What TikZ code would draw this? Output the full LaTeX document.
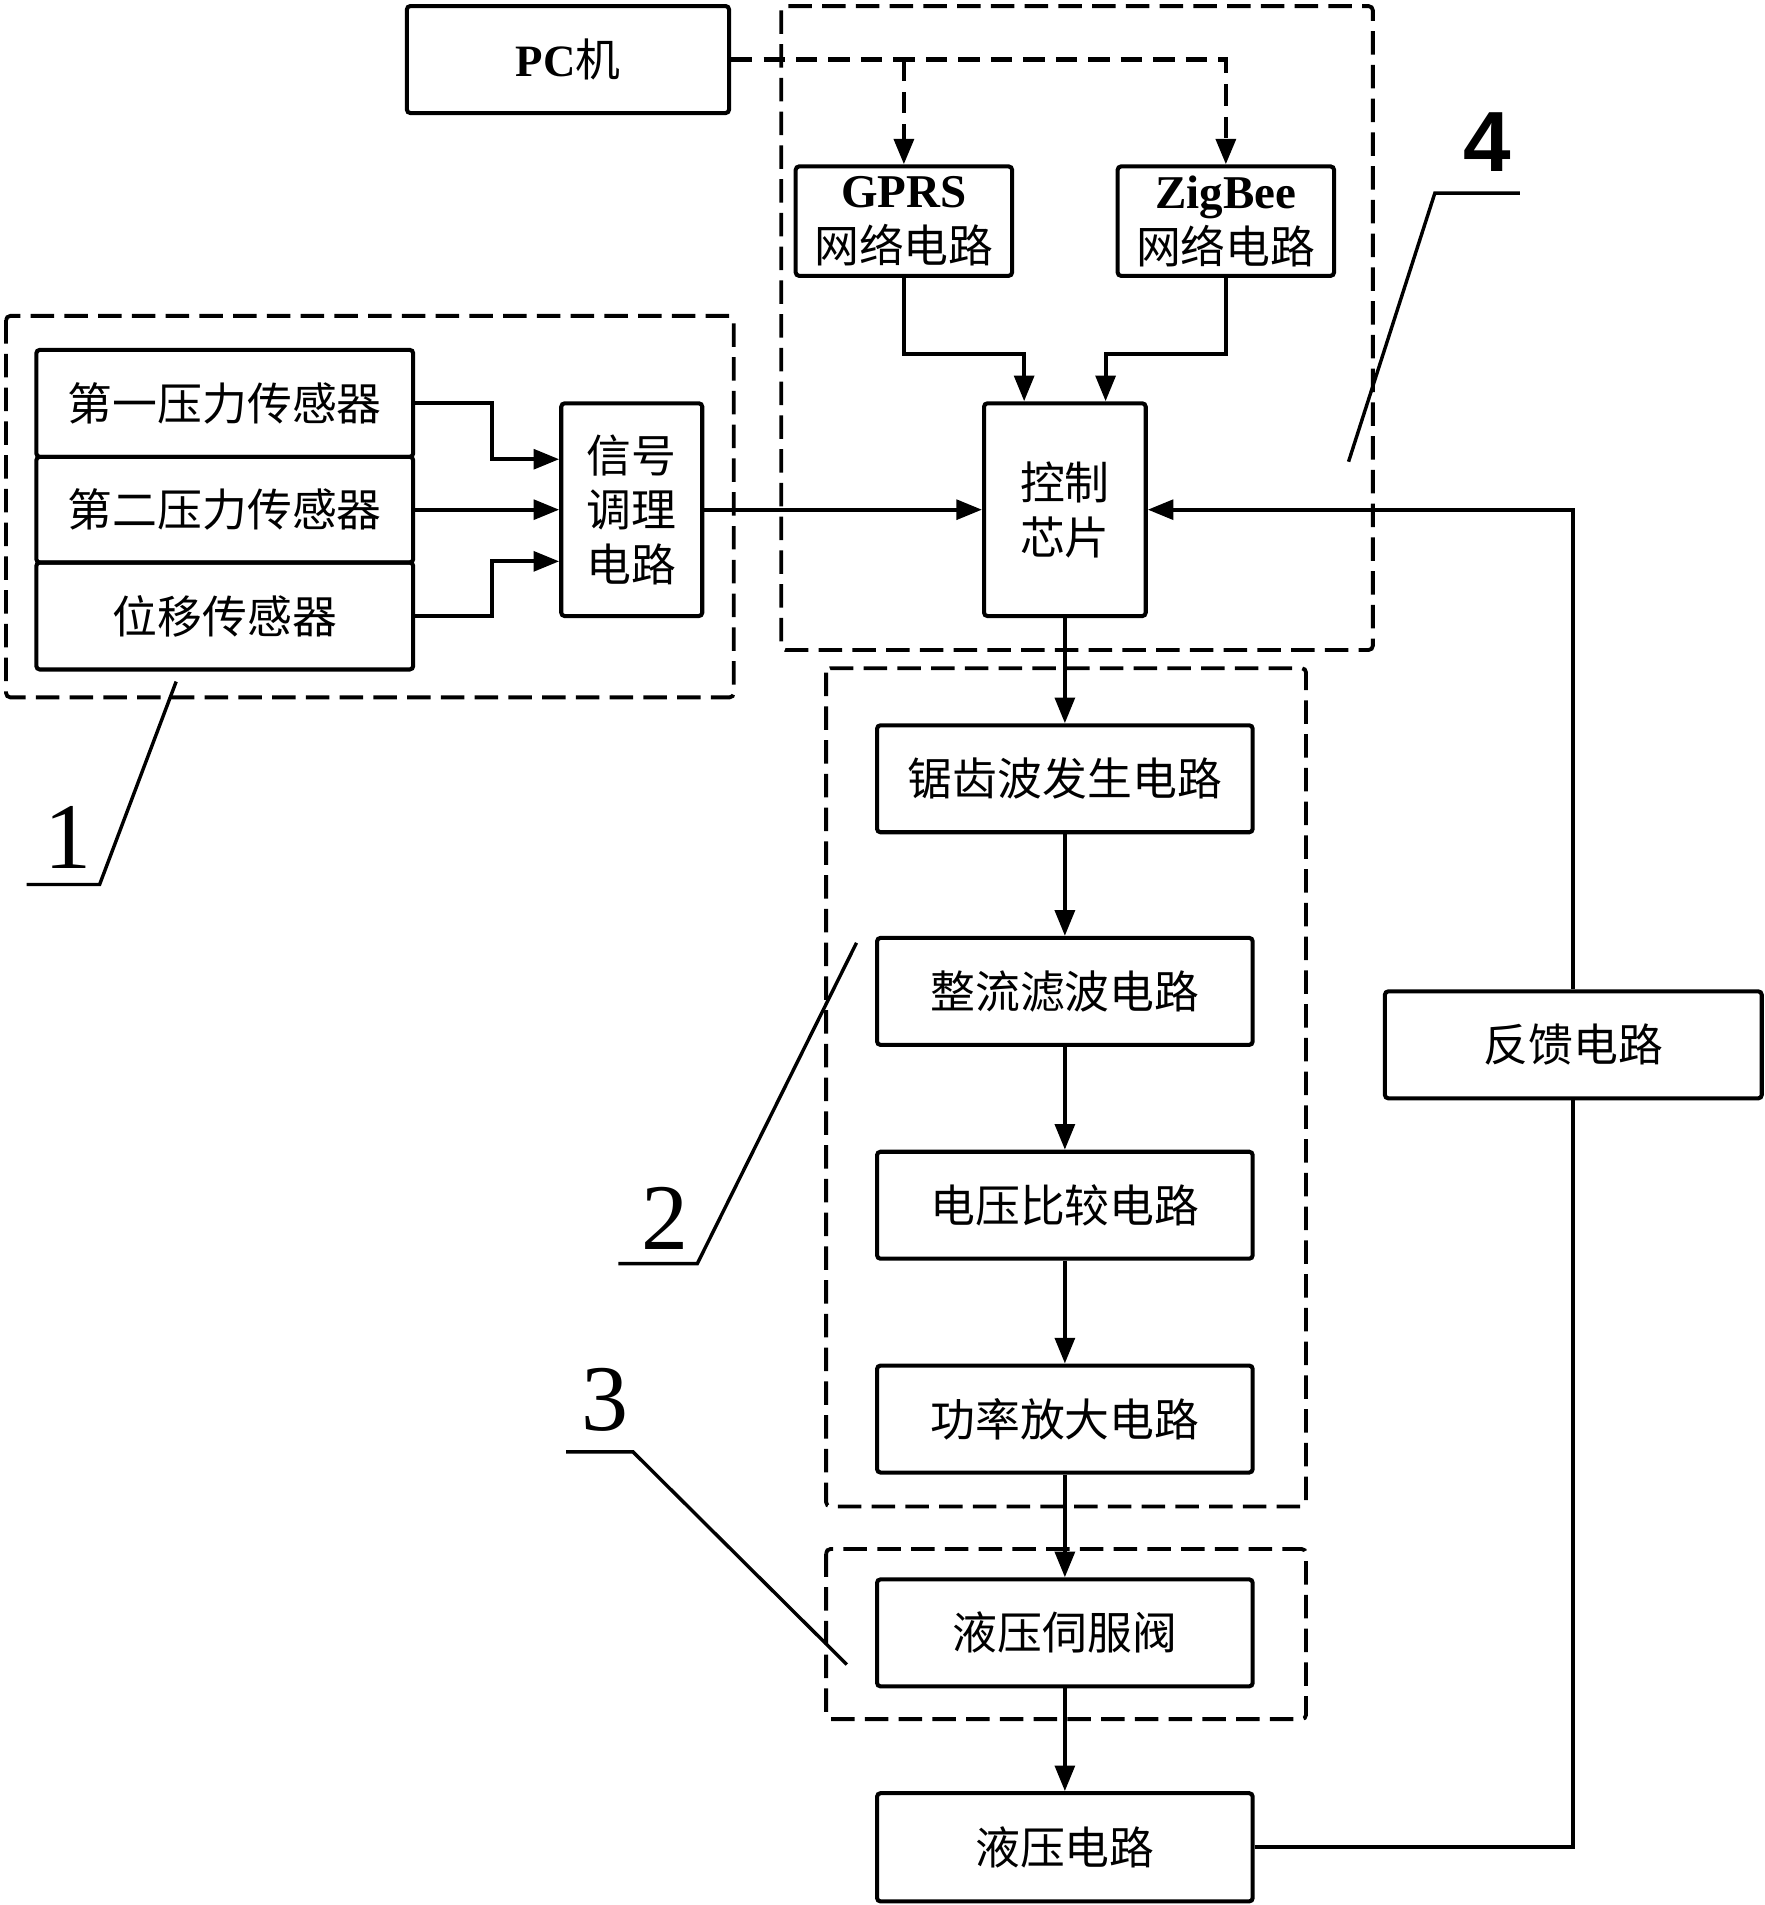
\documentclass[tikz,border=0pt]{standalone}
\usepackage{fontspec}
\setmainfont{Liberation Serif}
\newfontfamily\cjk{Noto Sans CJK SC}
\newfontfamily\lsf{Liberation Serif}
\newfontfamily\lsans{Liberation Sans}
\usetikzlibrary{arrows.meta}
\begin{document}
\begin{tikzpicture}[x=0.01cm,y=-0.01cm,
  box/.style={draw,line width=0.95pt,rounded corners=0.8pt,inner sep=0pt,align=center,
    font=\cjk\fontsize{10.5}{12.8}\selectfont},
  wire/.style={line width=0.95pt},
  arr/.style={line width=0.95pt,-{Triangle[length=6pt,width=4.6pt]}},
  grp/.style={line width=0.9pt,dash pattern=on 5.5pt off 2.4pt,rounded corners=1pt},
  dline/.style={line width=1.1pt,dash pattern=on 5pt off 2.6pt},
  darr/.style={dline,-{Triangle[length=6pt,width=4.6pt]}},
  lead/.style={line width=0.8pt},
  num/.style={font=\lsf\fontsize{22}{24}\selectfont,inner sep=0pt}
]
\useasboundingbox (0,0) rectangle (1452,1568);

% group boxes
\draw[grp] (643,5) rectangle (1130,535);
\draw[grp] (5,260) rectangle (604,574);
\draw[grp] (680,550) rectangle (1075,1240);
\draw[grp] (680,1275) rectangle (1075,1415);

% nodes
\node[box,minimum width=2.65cm,minimum height=0.88cm] (pc) at (467.5,49) {{\lsf\bfseries PC}机};
\node[box,minimum width=1.78cm,minimum height=0.90cm] (gprs) at (744,182) {{\lsf\bfseries\fontsize{11}{12.8}\selectfont GPRS}\\网络电路};
\node[box,minimum width=1.78cm,minimum height=0.90cm] (zig) at (1009,182) {{\lsf\bfseries\fontsize{11}{12.8}\selectfont ZigBee}\\网络电路};
\node[box,minimum width=1.33cm,minimum height=1.75cm] (ctrl) at (876.5,419.5) {控制\\芯片};
\node[box,minimum width=3.10cm,minimum height=0.88cm] (s1) at (185,332) {第一压力传感器};
\node[box,minimum width=3.10cm,minimum height=0.87cm] (s2) at (185,419.5) {第二压力传感器};
\node[box,minimum width=3.10cm,minimum height=0.88cm] (s3) at (185,507) {位移传感器};
\node[box,minimum width=1.16cm,minimum height=1.75cm] (sig) at (520,419.5) {信号\\调理\\电路};
\node[box,minimum width=3.09cm,minimum height=0.88cm] (saw) at (876.5,641) {锯齿波发生电路};
\node[box,minimum width=3.09cm,minimum height=0.88cm] (rect) at (876.5,816) {整流滤波电路};
\node[box,minimum width=3.09cm,minimum height=0.88cm] (volt) at (876.5,992) {电压比较电路};
\node[box,minimum width=3.09cm,minimum height=0.88cm] (pow) at (876.5,1168) {功率放大电路};
\node[box,minimum width=3.09cm,minimum height=0.88cm] (servo) at (876.5,1344) {液压伺服阀};
\node[box,minimum width=3.09cm,minimum height=0.89cm] (hyd) at (876.5,1520.5) {液压电路};
\node[box,minimum width=3.10cm,minimum height=0.88cm] (fb) at (1295,860) {反馈电路};

% PC dashed links
\coordinate (jg) at (gprs.north |- pc.east);
\draw[darr] (pc.east) -| (zig.north);
\draw[darr] (jg) -- (gprs.north);

% network to control chip
\draw[arr] (gprs.south) -- ++(0,63) -| ([xshift=-0.335cm]ctrl.north);
\draw[arr] (zig.south) -- ++(0,63) -| ([xshift=0.335cm]ctrl.north);

% sensors to signal conditioning
\draw[arr] (s1.east) -- ++(63,0) |- ([yshift=0.415cm]sig.west);
\draw[arr] (s2.east) -- (sig.west);
\draw[arr] (s3.east) -- ++(63,0) |- ([yshift=-0.425cm]sig.west);
\draw[arr] (sig.east) -- (ctrl.west);

% feedback
\draw[arr] (fb.north) |- (ctrl.east);
\draw[wire] (hyd.east) -| (fb.south);

% chain
\draw[arr] (ctrl.south) -- (saw.north);
\draw[arr] (saw.south) -- (rect.north);
\draw[arr] (rect.south) -- (volt.north);
\draw[arr] (volt.south) -- (pow.north);
\draw[arr] (pow.south) -- (servo.north);
\draw[arr] (servo.south) -- (hyd.north);

% labels
\node[num] (n1) at (56,689) {1};
\coordinate (l1a) at (22,728); \coordinate (l1b) at (82,728); \coordinate (l1c) at (145,561);
\draw[lead] (l1a) -- (l1b) -- (l1c);
\node[num] (n2) at (547,1003) {2};
\coordinate (l2a) at (509,1040); \coordinate (l2b) at (574,1040); \coordinate (l2c) at (705,776);
\draw[lead] (l2a) -- (l2b) -- (l2c);
\node[num] (n3) at (498,1152) {3};
\coordinate (l3a) at (466,1195); \coordinate (l3b) at (521,1195); \coordinate (l3c) at (697,1370);
\draw[lead] (l3a) -- (l3b) -- (l3c);
\node[num,font=\lsans\bfseries\fontsize{20}{24}\selectfont] (n4) at (1224,117) {4};
\coordinate (l4a) at (1251,159); \coordinate (l4b) at (1181,159); \coordinate (l4c) at (1110,380);
\draw[lead] (l4a) -- (l4b) -- (l4c);
\end{tikzpicture}
\end{document}
